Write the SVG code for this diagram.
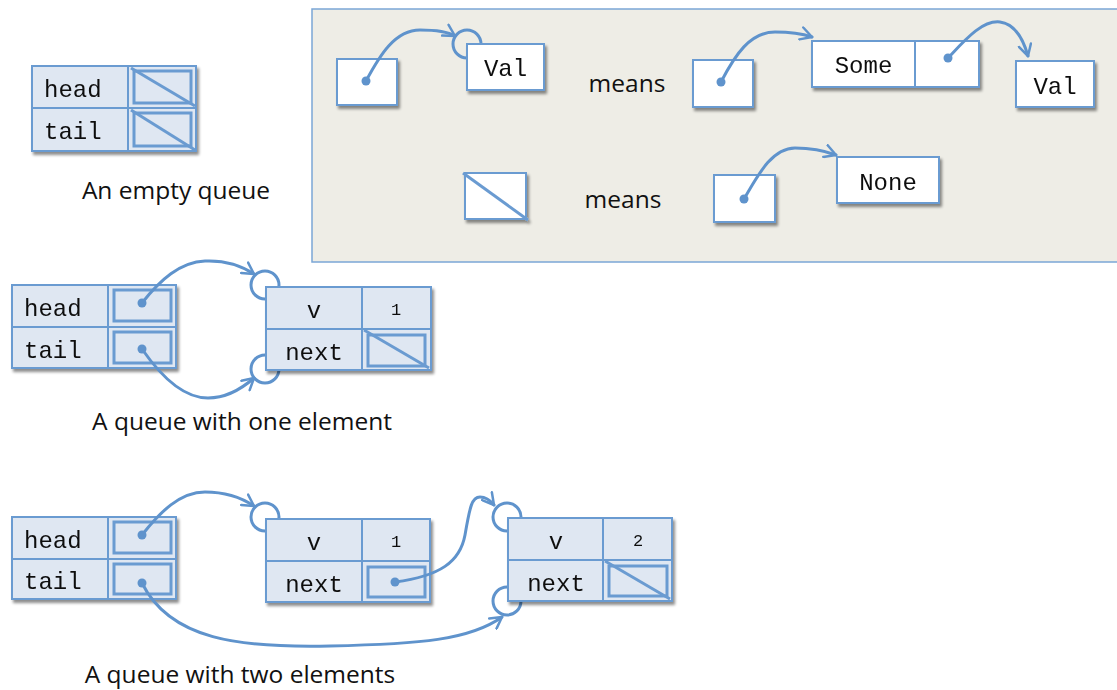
<svg xmlns="http://www.w3.org/2000/svg" width="1117" height="690" viewBox="0 0 1117 690">
<defs>
<filter id="sh" x="-10%" y="-10%" width="130%" height="140%">
<feGaussianBlur in="SourceAlpha" stdDeviation="1.5"/>
<feOffset dx="2" dy="3" result="o"/>
<feComponentTransfer><feFuncA type="linear" slope="0.45"/></feComponentTransfer>
<feMerge><feMergeNode/><feMergeNode in="SourceGraphic"/></feMerge>
</filter>
<marker id="ar" viewBox="0 0 12 12" refX="10" refY="6" markerWidth="5" markerHeight="5" orient="auto" markerUnits="strokeWidth">
<path d="M1,1 L10,6 L1,11" fill="none" stroke="#5f93cc" stroke-width="2" stroke-linecap="round" stroke-linejoin="round"/>
</marker>
</defs>
<style>
.cell{fill:#dfe7f2;stroke:#6a9bd1;stroke-width:2}
.wcell{fill:#ffffff;stroke:#6a9bd1;stroke-width:2}
.inner{fill:none;stroke:#6a9bd1;stroke-width:3}
.diag{stroke:#6a9bd1;stroke-width:3}
.mono{font-family:"Liberation Mono","Courier New",monospace;font-size:24px;fill:#111}
.num{font-family:"Liberation Mono","Courier New",monospace;font-size:17px;fill:#111}
.cap{font-family:"Open Sans","Noto Sans",sans-serif;font-size:24.5px;fill:#111}
.con{fill:none;stroke:#5f93cc;stroke-width:3;stroke-linecap:round}
.ring{fill:none;stroke:#5f93cc;stroke-width:3}
.dot{fill:#5f93cc}
</style>
<rect width="1117" height="690" fill="#ffffff"/>

<g id="legend">
<rect x="312" y="9" width="820" height="253" fill="#eeede6" stroke="#7ba6d6" stroke-width="1.5"/>
<circle class="ring" cx="467" cy="44" r="14"/>
<g id="legend-ptr1" filter="url(#sh)"><rect class="wcell" x="337" y="59" width="60" height="46"/></g>
<g id="legend-val1" filter="url(#sh)"><rect class="wcell" x="467" y="44" width="77" height="46"/><text class="mono" x="505.5" y="76" text-anchor="middle">Val</text></g>
<text class="cap" x="627" y="92" text-anchor="middle">means</text>
<g id="legend-ptr2" filter="url(#sh)"><rect class="wcell" x="693" y="60" width="60" height="47"/></g>
<g id="legend-some" filter="url(#sh)"><rect class="wcell" x="812" y="41" width="103" height="46"/><rect class="wcell" x="915" y="41" width="64" height="46"/><text class="mono" x="863.5" y="73" text-anchor="middle">Some</text></g>
<g id="legend-val2" filter="url(#sh)"><rect class="wcell" x="1016" y="61" width="78" height="46"/><text class="mono" x="1055" y="94" text-anchor="middle">Val</text></g>
<g id="legend-null" filter="url(#sh)"><rect class="wcell" x="465" y="173" width="61" height="46"/><line class="diag" x1="463" y1="173" x2="528" y2="220"/></g>
<text class="cap" x="623" y="208" text-anchor="middle">means</text>
<g id="legend-ptr3" filter="url(#sh)"><rect class="wcell" x="714" y="175" width="61" height="47"/></g>
<g id="legend-none" filter="url(#sh)"><rect class="wcell" x="837" y="157" width="102" height="46"/><text class="mono" x="888" y="190" text-anchor="middle">None</text></g>
</g>

<g id="empty-queue" filter="url(#sh)">
<rect class="cell" x="32" y="66" width="96" height="42"/>
<rect class="cell" x="128" y="66" width="68" height="42"/>
<rect class="inner" x="134" y="71" width="57" height="32"/>
<line class="diag" x1="131" y1="68" x2="195" y2="106"/>
<rect class="cell" x="32" y="108" width="96" height="43"/>
<rect class="cell" x="128" y="108" width="68" height="43"/>
<rect class="inner" x="134" y="113" width="57" height="33"/>
<line class="diag" x1="131" y1="110" x2="195" y2="150"/>
<text class="mono" x="44" y="97">head</text>
<text class="mono" x="44" y="139">tail</text>
</g>
<text class="cap" x="176" y="199" text-anchor="middle">An empty queue</text>

<g id="rings">
<circle class="ring" cx="265" cy="285" r="14"/>
<circle class="ring" cx="265" cy="369" r="14"/>
<circle class="ring" cx="265" cy="517" r="14"/>
<circle class="ring" cx="507" cy="517" r="14"/>
<circle class="ring" cx="507" cy="601" r="14"/>
</g>

<g id="q1-queue" filter="url(#sh)">
<rect class="cell" x="12" y="285" width="96" height="42"/>
<rect class="cell" x="108" y="285" width="68" height="42"/>
<rect class="inner" x="114" y="290" width="57" height="31"/>
<rect class="cell" x="12" y="327" width="96" height="41"/>
<rect class="cell" x="108" y="327" width="68" height="41"/>
<rect class="inner" x="114" y="332" width="57" height="31"/>
<text class="mono" x="24" y="316">head</text>
<text class="mono" x="24" y="358">tail</text>
</g>
<g id="q1-node1" filter="url(#sh)">
<rect class="cell" x="266" y="287" width="96" height="42"/>
<rect class="cell" x="362" y="287" width="69" height="42"/>
<rect class="cell" x="266" y="329" width="96" height="41"/>
<rect class="cell" x="362" y="329" width="69" height="41"/>
<rect class="inner" x="368" y="335" width="57" height="31"/>
<line class="diag" x1="364" y1="330" x2="429" y2="368"/>
<text class="mono" x="314" y="318" text-anchor="middle">v</text>
<text class="num" x="396" y="315" text-anchor="middle">1</text>
<text class="mono" x="314" y="360" text-anchor="middle">next</text>
</g>
<text class="cap" x="242" y="430" text-anchor="middle">A queue with one element</text>

<g id="q2-queue" filter="url(#sh)">
<rect class="cell" x="12" y="517" width="96" height="42"/>
<rect class="cell" x="108" y="517" width="68" height="42"/>
<rect class="inner" x="114" y="522" width="57" height="31"/>
<rect class="cell" x="12" y="559" width="96" height="40"/>
<rect class="cell" x="108" y="559" width="68" height="40"/>
<rect class="inner" x="114" y="564" width="57" height="30"/>
<text class="mono" x="24" y="548">head</text>
<text class="mono" x="24" y="589">tail</text>
</g>
<g id="q2-node1" filter="url(#sh)">
<rect class="cell" x="266" y="519" width="96" height="42"/>
<rect class="cell" x="362" y="519" width="68" height="42"/>
<rect class="cell" x="266" y="561" width="96" height="41"/>
<rect class="cell" x="362" y="561" width="68" height="41"/>
<rect class="inner" x="368" y="567" width="57" height="30"/>
<text class="mono" x="314" y="550" text-anchor="middle">v</text>
<text class="num" x="396" y="547" text-anchor="middle">1</text>
<text class="mono" x="314" y="592" text-anchor="middle">next</text>
</g>
<g id="q2-node2" filter="url(#sh)">
<rect class="cell" x="508" y="518" width="95" height="42"/>
<rect class="cell" x="603" y="518" width="69" height="42"/>
<rect class="cell" x="508" y="560" width="95" height="41"/>
<rect class="cell" x="603" y="560" width="69" height="41"/>
<rect class="inner" x="609" y="566" width="58" height="30"/>
<line class="diag" x1="605" y1="561" x2="670" y2="599"/>
<text class="mono" x="556" y="549" text-anchor="middle">v</text>
<text class="num" x="638" y="546" text-anchor="middle">2</text>
<text class="mono" x="556" y="591" text-anchor="middle">next</text>
</g>
<text class="cap" x="240" y="683" text-anchor="middle">A queue with two elements</text>

<g id="connectors">
<path class="con" marker-end="url(#ar)" d="M366,81 C380,55 395,30 420,30 C440,30 450,33 455,36"/>
<path class="con" marker-end="url(#ar)" d="M721,82 C735,55 750,32 775,32 C795,32 806,35 812,37"/>
<path class="con" marker-end="url(#ar)" d="M948,58 C965,40 982,20 1000,22 C1016,24 1024,42 1028,56"/>
<path class="con" marker-end="url(#ar)" d="M744,199 C758,175 772,148 795,148 C815,148 828,152 836,155"/>
<path class="con" marker-end="url(#ar)" d="M142,303 C160,280 180,262 205,261 C228,260 245,268 254,274"/>
<path class="con" marker-end="url(#ar)" d="M142,349 C160,375 182,398 208,398 C230,398 246,385 254,378"/>
<path class="con" marker-end="url(#ar)" d="M142,535 C160,512 180,492 205,492 C228,492 245,500 254,506"/>
<path class="con" marker-end="url(#ar)" d="M395,582 C440,576 460,562 465,535 C470,506 472,497 480,497 C486,497 490,500 494,505"/>
<path class="con" marker-end="url(#ar)" d="M142,583 C170,640 240,648 330,646 C420,644 470,640 502,617"/>
<circle class="dot" cx="366" cy="81" r="4.5"/>
<circle class="dot" cx="721" cy="82" r="4.5"/>
<circle class="dot" cx="948" cy="58" r="4.5"/>
<circle class="dot" cx="744" cy="199" r="4.5"/>
<circle class="dot" cx="142" cy="303" r="4.5"/>
<circle class="dot" cx="142" cy="349" r="4.5"/>
<circle class="dot" cx="142" cy="535" r="4.5"/>
<circle class="dot" cx="395" cy="582" r="4.5"/>
<circle class="dot" cx="142" cy="583" r="4.5"/>
</g>
</svg>
